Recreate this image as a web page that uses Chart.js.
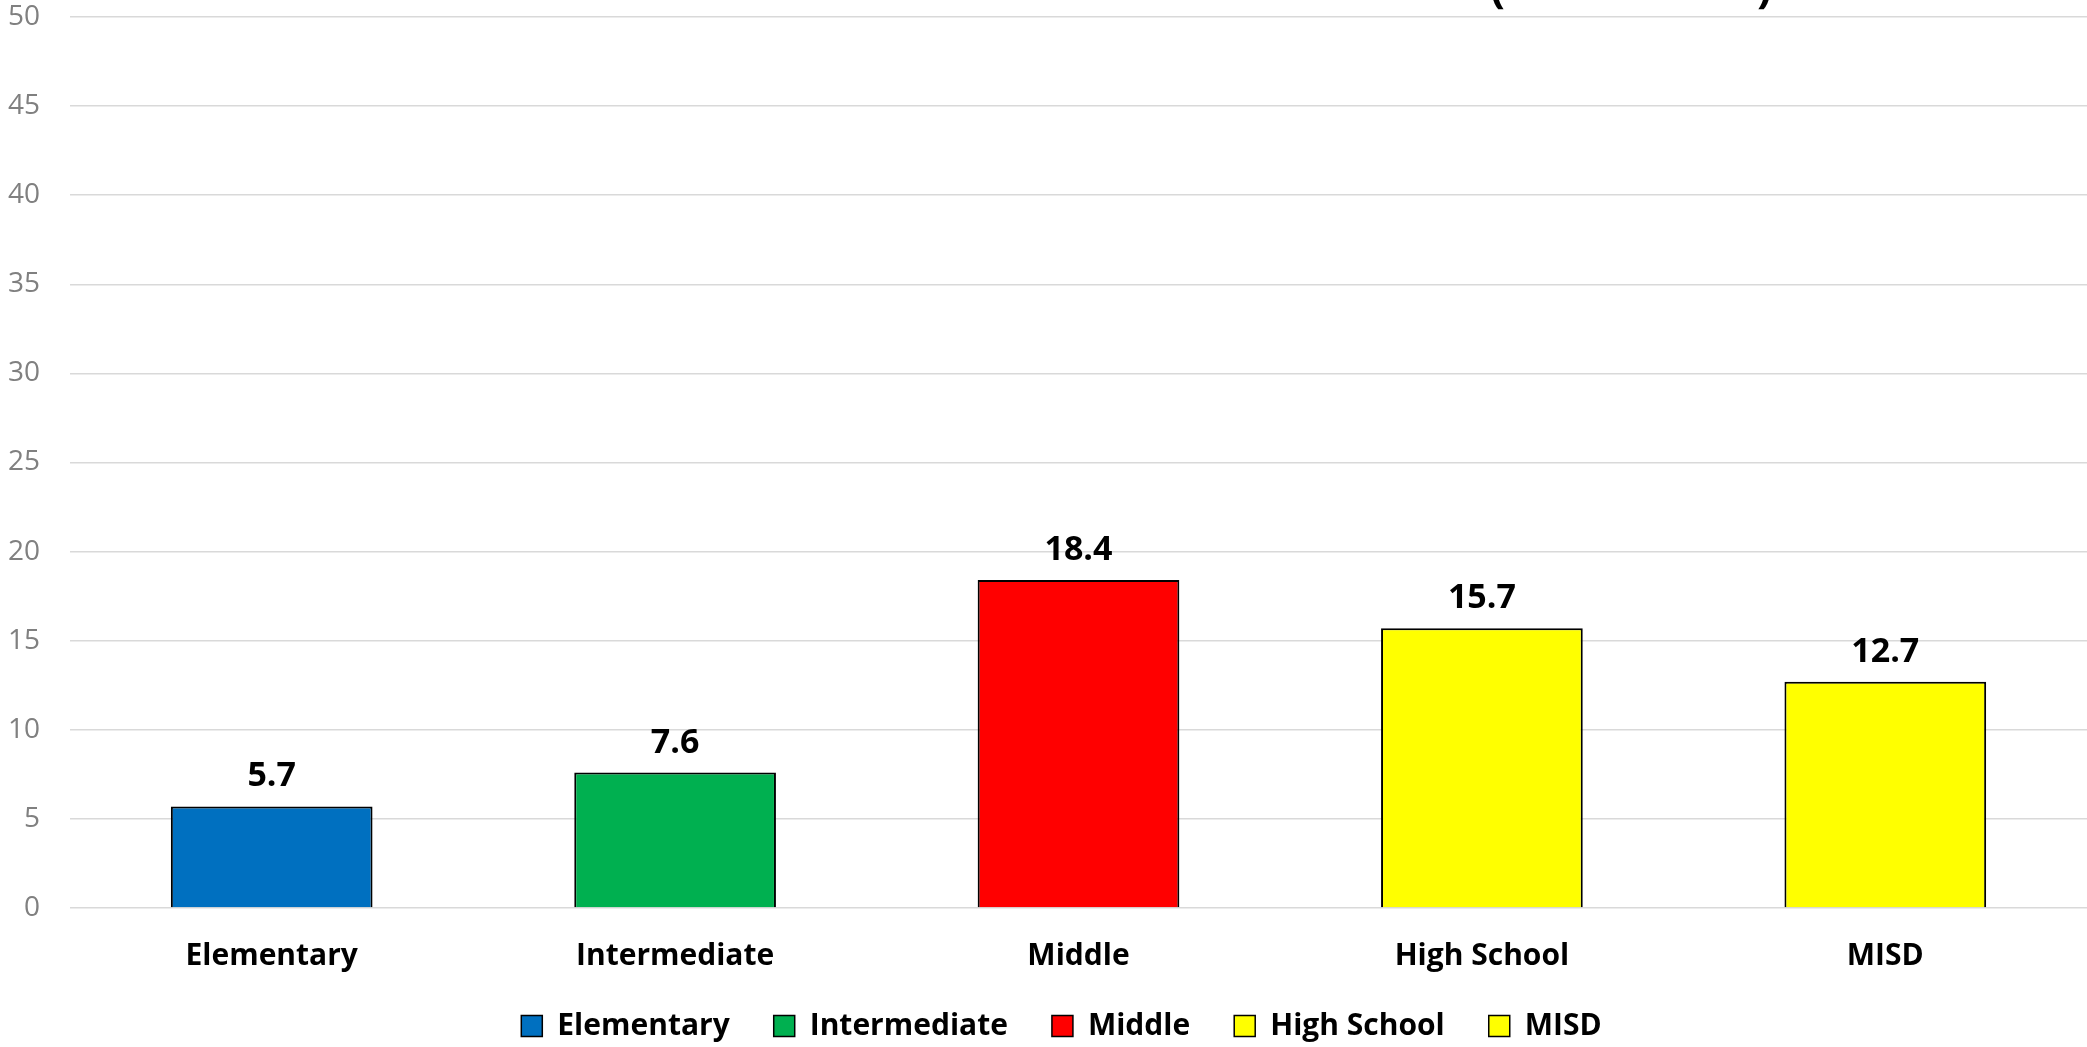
<!DOCTYPE html>
<html lang="en">
<head>
  <meta charset="UTF-8">
  <title>Schools chart</title>
  <script src="https://cdn.jsdelivr.net/npm/chart.js"></script>
  <style>
    body { margin: 0; padding: 0; background: #fff; }
    #wrap { width: 2087px; height: 1047px; }
  </style>
</head>
<body>
  <div id="wrap"><canvas id="myChart"></canvas></div>

  <script>
    const categories = ['Elementary', 'Intermediate', 'Middle', 'High School', 'MISD'];
    const values = [5.7, 7.6, 18.4, 15.7, 12.7];
    const barColors = ['#0070c0', '#00b050', '#ff0000', '#ffff00', '#ffff00'];
    const yTicks = [0, 5, 10, 15, 20, 25, 30, 35, 40, 45, 50];

    const FONT = "'Open Sans'";

    // values printed above each bar
    const valueLabels = {
      id: 'valueLabels',
      afterDatasetsDraw(chart) {
        const ctx = chart.ctx;
        const meta = chart.getDatasetMeta(0);
        ctx.save();
        ctx.font = 'bold 34px ' + FONT;
        ctx.fillStyle = '#000';
        ctx.textAlign = 'center';
        ctx.textBaseline = 'alphabetic';
        meta.data.forEach((bar, i) => {
          ctx.fillText(values[i].toFixed(1), bar.x, bar.y - 20);
        });
        ctx.restore();
      }
    };

    // the title sits above the picture; only the foot of its brackets shows
    const cutTitle = {
      id: 'cutTitle',
      afterDraw(chart) {
        const ctx = chart.ctx;
        ctx.save();
        ctx.font = 'bold 44px ' + FONT;
        ctx.fillStyle = '#000';
        ctx.textAlign = 'left';
        ctx.textBaseline = 'alphabetic';
        ctx.fillText('(', 1490, 2);
        ctx.fillText(')', 1757, 2);
        ctx.restore();
      }
    };

    // wide gaps between legend items without a tall legend box
    const legendFix = {
      id: 'legendFix',
      beforeInit(chart) {
        const lg = chart.legend;
        if (!lg) return;
        const fit = lg.fit;
        lg.fit = function () {
          fit.call(this);
          this.height = 80;
        };
      },
      afterLayout(chart) {
        if (!chart.legend) return;
        chart.legend.left += 18;
        chart.legend.right += 18;
      }
    };

    new Chart(document.getElementById('myChart'), {
      type: 'bar',
      data: {
        labels: categories,
        datasets: [{
          data: values,
          backgroundColor: barColors,
          borderColor: '#000',
          borderWidth: 2,
          barPercentage: 0.5,
          categoryPercentage: 1
        }]
      },
      options: {
        responsive: true,
        maintainAspectRatio: false,
        animation: false,
        layout: { padding: 0 },
        plugins: {
          tooltip: { enabled: false },
          legend: {
            position: 'bottom',
            labels: {
              font: { family: FONT, size: 30, weight: 'bold' },
              color: '#000',
              boxWidth: 21,
              boxHeight: 21,
              padding: 44,
              generateLabels: () => categories.map((c, i) => ({
                text: c,
                fillStyle: barColors[i],
                strokeStyle: '#000',
                lineWidth: 1.5,
                fontColor: '#000',
                index: i
              }))
            }
          }
        },
        scales: {
          x: {
            afterFit(scale) {
              scale.height = 59;
              // let the labels run past the short axis box
              scale._computeLabelArea = () => undefined;
            },
            grid: { display: false, drawTicks: false },
            border: { display: false },
            ticks: {
              font: { family: FONT, size: 30, weight: 'bold' },
              color: '#000',
              padding: 30
            }
          },
          y: {
            min: 0,
            max: 50,
            afterFit(scale) {
              scale.width = 70;
              scale.paddingTop = 17;
              scale.paddingBottom = 0;
            },
            afterBuildTicks(scale) { scale.ticks = yTicks.map(v => ({ value: v })); },
            grid: { color: '#d9d9d9', lineWidth: 1.5, drawTicks: false },
            border: { display: false },
            ticks: {
              font: { family: FONT, size: 28 },
              color: '#808080',
              padding: 30
            }
          }
        }
      },
      plugins: [valueLabels, cutTitle, legendFix]
    });
  </script>
</body>
</html>
